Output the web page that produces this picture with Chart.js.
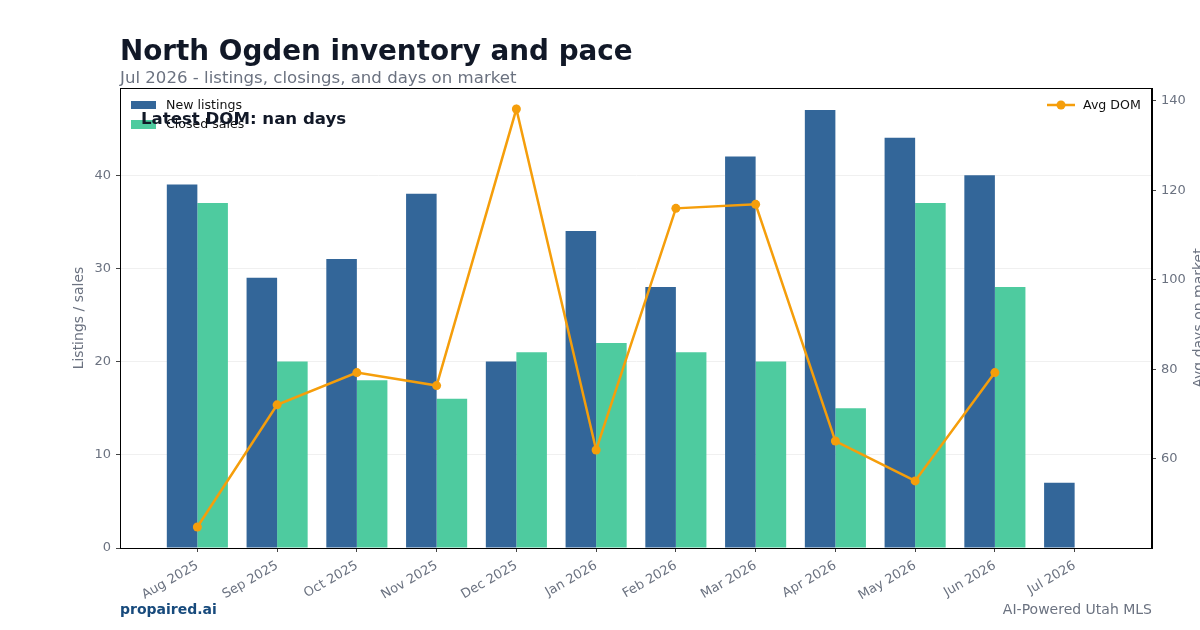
<!DOCTYPE html>
<html>
<head>
<meta charset="utf-8">
<script src="https://cdn.jsdelivr.net/npm/chart.js@4.4.1/dist/chart.umd.min.js"></script>
<style>
  html, body { margin: 0; padding: 0; background: #fff; overflow: hidden; }
  canvas { display: block; }
</style>
</head>
<body>
<canvas id="chart" width="1200" height="630"></canvas>
<script>
// data
const months = ['Aug 2025', 'Sep 2025', 'Oct 2025', 'Nov 2025', 'Dec 2025', 'Jan 2026',
                'Feb 2026', 'Mar 2026', 'Apr 2026', 'May 2026', 'Jun 2026', 'Jul 2026'];
const newListings = [39, 29, 31, 38, 20, 34, 28, 42, 47, 44, 40, 7];
const closedSales = [37, 20, 18, 16, 21, 22, 21, 20, 15, 37, 28, null];
const avgDom = [44.8, 72.1, 79.3, 76.4, 138.2, 62.0, 116.0, 116.9, 64.0, 55.1, 79.3, null];
const leftTicks = [0, 10, 20, 30, 40];
const rightTicks = [60, 80, 100, 120, 140];

const FONT = '"DejaVu Sans", sans-serif';
const GRAY = '#6b7280';

const toPoints = arr => arr.map((v, i) => ({ x: i, y: v }));

const overlay = {
    id: 'overlay',
    afterDraw(chart) {
        const ctx = chart.ctx;
        const a = chart.chartArea;
        ctx.save();

        // frame round the plot
        ctx.strokeStyle = '#000';
        ctx.lineWidth = 1;
        ctx.strokeRect(Math.round(a.left) + 0.5, Math.round(a.top) + 0.5,
                       Math.round(a.right - a.left) - 1, Math.round(a.bottom - a.top));

        // titles
        ctx.textBaseline = 'alphabetic';
        ctx.textAlign = 'left';
        ctx.fillStyle = '#111827';
        ctx.font = 'bold 27.8px ' + FONT;
        ctx.fillText('North Ogden inventory and pace', 120, 60);
        ctx.fillStyle = GRAY;
        ctx.font = '16.6px ' + FONT;
        ctx.fillText('Jul 2026 - listings, closings, and days on market', 120, 83);

        // axis titles
        ctx.font = '14px ' + FONT;
        ctx.textAlign = 'center';
        ctx.textBaseline = 'middle';
        ctx.save();
        ctx.translate(79, (a.top + a.bottom) / 2);
        ctx.rotate(-Math.PI / 2);
        ctx.fillText('Listings / sales', 0, 0);
        ctx.restore();
        ctx.save();
        ctx.translate(1199, (a.top + a.bottom) / 2);
        ctx.rotate(-Math.PI / 2);
        ctx.fillText('Avg days on market', 0, 0);
        ctx.restore();

        // left legend
        ctx.textAlign = 'left';
        ctx.font = '12.6px ' + FONT;
        ctx.fillStyle = '#336699';
        ctx.fillRect(131, 101, 25, 8);
        ctx.fillStyle = '#4ecb9f';
        ctx.fillRect(131, 120, 25, 9);
        ctx.fillStyle = '#111';
        ctx.fillText('New listings', 166, 106);
        ctx.fillText('Closed sales', 166, 125);

        // right legend
        ctx.strokeStyle = '#f59e0b';
        ctx.lineWidth = 2.5;
        ctx.beginPath();
        ctx.moveTo(1047, 105);
        ctx.lineTo(1075, 105);
        ctx.stroke();
        ctx.fillStyle = '#f59e0b';
        ctx.beginPath();
        ctx.arc(1061, 105, 4.5, 0, Math.PI * 2);
        ctx.fill();
        ctx.fillStyle = '#111';
        ctx.fillText('Avg DOM', 1083, 106);

        // annotation
        ctx.fillStyle = '#111827';
        ctx.font = 'bold 16.6px ' + FONT;
        ctx.fillText('Latest DOM: nan days', 141, 120);

        // footer
        ctx.textBaseline = 'alphabetic';
        ctx.fillStyle = '#174a7c';
        ctx.font = 'bold 14px ' + FONT;
        ctx.fillText('propaired.ai', 120, 614);
        ctx.textAlign = 'right';
        ctx.fillStyle = GRAY;
        ctx.font = '14px ' + FONT;
        ctx.fillText('AI-Powered Utah MLS', 1152, 614);

        ctx.restore();
    }
};

new Chart(document.getElementById('chart'), {
    type: 'bar',
    data: {
        datasets: [
            {
                type: 'line',
                label: 'Avg DOM',
                data: toPoints(avgDom),
                yAxisID: 'y1',
                borderColor: '#f59e0b',
                backgroundColor: '#f59e0b',
                borderWidth: 2.5,
                pointRadius: 4.5,
                pointBorderWidth: 0,
                tension: 0,
                spanGaps: false,
                order: 0
            },
            {
                label: 'New listings',
                data: toPoints(newListings),
                yAxisID: 'y',
                backgroundColor: '#336699',
                categoryPercentage: 0.766,
                barPercentage: 1.0,
                order: 1
            },
            {
                label: 'Closed sales',
                data: toPoints(closedSales),
                yAxisID: 'y',
                backgroundColor: '#4ecb9f',
                categoryPercentage: 0.766,
                barPercentage: 1.0,
                order: 1
            }
        ]
    },
    options: {
        responsive: false,
        animation: false,
        devicePixelRatio: 1,
        layout: { padding: { top: 88, left: 0, right: 0, bottom: 0 } },
        plugins: {
            legend: { display: false },
            tooltip: { enabled: false },
            title: { display: false }
        },
        scales: {
            x: {
                type: 'linear',
                offset: false,
                min: -0.97,
                max: 11.97,
                afterFit: s => { s.height = 82; },
                afterBuildTicks: s => { s.ticks = months.map((m, i) => ({ value: i })); },
                ticks: {
                    autoSkip: false,
                    maxRotation: 30,
                    minRotation: 30,
                    color: GRAY,
                    font: { family: FONT, size: 13 },
                    padding: 6,
                    callback: v => months[Math.round(v)]
                },
                grid: { offset: false, drawOnChartArea: false, drawTicks: true, tickLength: 4, tickColor: '#444' },
                border: { display: true, color: '#000' }
            },
            y: {
                position: 'left',
                min: 0,
                max: 49.35,
                afterFit: s => { s.width = 120; },
                afterBuildTicks: s => { s.ticks = leftTicks.map(v => ({ value: v })); },
                ticks: { color: GRAY, font: { family: FONT, size: 13 }, padding: 5 },
                grid: { color: '#f0f0f0', lineWidth: 1, tickLength: 4, tickColor: '#444' },
                border: { display: true, color: '#000' }
            },
            y1: {
                position: 'right',
                min: 40.1,
                max: 142.9,
                afterFit: s => { s.width = 48; },
                afterBuildTicks: s => { s.ticks = rightTicks.map(v => ({ value: v })); },
                ticks: { color: GRAY, font: { family: FONT, size: 13 }, padding: 5 },
                grid: { drawOnChartArea: false, tickLength: 4, tickColor: '#444' },
                border: { display: true, color: '#000' }
            }
        }
    },
    plugins: [overlay]
});
</script>
</body>
</html>
